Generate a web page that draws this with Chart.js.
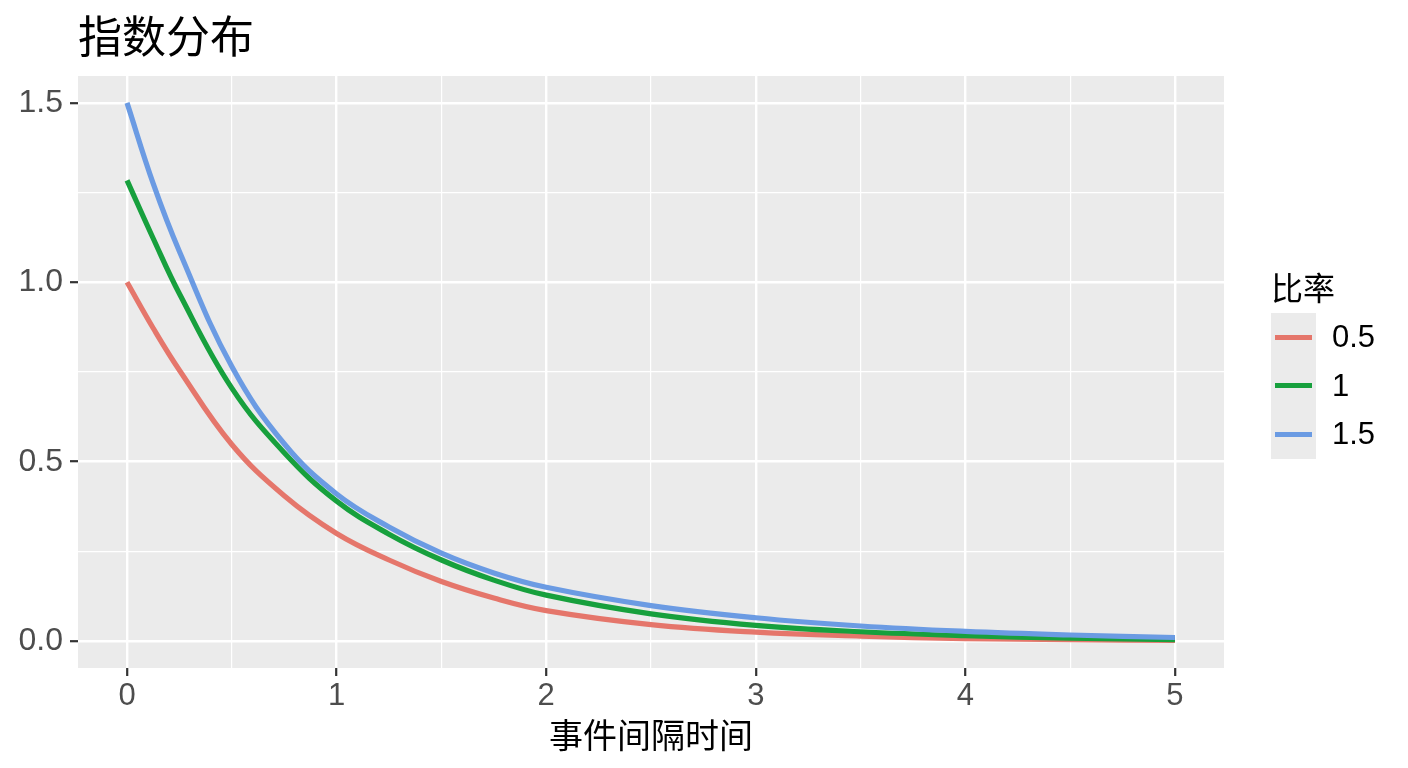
<!DOCTYPE html>
<html lang="zh">
<head>
  <meta charset="UTF-8" />
  <title>指数分布</title>
  <script src="https://cdn.jsdelivr.net/npm/chart.js"></script>
  <style>
    html, body { margin: 0; padding: 0; background: #fff; }
    #wrap { position: relative; width: 1408px; height: 768px; }
    canvas { display: block; }
    .legend {
      position: absolute; left: 1271px; top: 265px;
      font-family: "Liberation Sans", "Noto Sans CJK SC", sans-serif; color: #000;
    }
    .legend .ttl { font-size: 32px; height: 42px; line-height: 42px; font-family: "Noto Sans CJK SC", sans-serif; }
    .legend .keys { position: relative; margin-top: 6px; }
    .legend .row { display: flex; align-items: center; height: 48.5px; }
    .legend .key { width: 45px; height: 48.5px; background: #EBEBEB; position: relative; }
    .legend .key span { position: absolute; left: 4px; right: 4px; top: 21.5px; height: 5px; }
    .legend .lab { font-size: 31px; margin-left: 16px; }
  </style>
</head>
<body>
  <div id="wrap">
    <canvas id="chart" width="1408" height="768"></canvas>
    <div class="legend" id="legend"></div>
  </div>

  <script>
    // values
    const tiempos = [0, 0.125, 0.25, 0.5, 0.75, 1, 1.25, 1.5, 1.75, 2, 2.5, 3, 3.5, 4, 4.5, 5];
    const tasa05 = [1.00, 0.872, 0.755, 0.548, 0.405, 0.30, 0.226, 0.166, 0.120, 0.085, 0.046, 0.025, 0.014, 0.007, 0.004, 0.002];
    const tasa1  = [1.284, 1.122, 0.968, 0.705, 0.525, 0.39, 0.298, 0.226, 0.170, 0.128, 0.076, 0.044, 0.026, 0.015, 0.008, 0.004];
    const tasa15 = [1.50, 1.275, 1.086, 0.765, 0.55, 0.41, 0.318, 0.245, 0.190, 0.150, 0.099, 0.065, 0.042, 0.027, 0.017, 0.010];
    const nombres = ["0.5", "1", "1.5"];
    const colores = ["#E5766B", "#17A03D", "#6B9BE3"];
    const xTicks = [0, 0.5, 1, 1.5, 2, 2.5, 3, 3.5, 4, 4.5, 5];
    const yTicks = [0, 0.25, 0.5, 0.75, 1, 1.25, 1.5];

    const series = [tasa05, tasa1, tasa15];
    const fuente = '"Liberation Sans", "Noto Sans CJK SC", sans-serif';

    const panel = {
      id: "panel",
      beforeDraw(chart) {
        const a = chart.chartArea, c = chart.ctx;
        c.save();
        c.fillStyle = "#EBEBEB";
        c.fillRect(a.left, a.top, a.right - a.left, a.bottom - a.top);
        c.restore();
      },
      afterDraw(chart) {
        const c = chart.ctx;
        c.save();
        c.fillStyle = "#000";
        c.font = '44px "Noto Sans CJK SC", sans-serif';
        c.textBaseline = "middle";
        c.fillText("指数分布", chart.chartArea.left, 36);
        c.restore();
      }
    };

    new Chart(document.getElementById("chart"), {
      type: "scatter",
      data: {
        datasets: series.map((s, i) => ({
          label: nombres[i],
          data: tiempos.map((t, j) => ({ x: t, y: s[j] })),
          showLine: true,
          borderColor: colores[i],
          backgroundColor: colores[i],
          borderWidth: 5.2,
          pointRadius: 0,
          tension: 0.4,
          order: 3 - i
        }))
      },
      options: {
        responsive: false,
        animation: false,
        layout: { padding: { top: 76, right: 184, bottom: 0, left: 0 } },
        plugins: { legend: { display: false }, tooltip: { enabled: false } },
        scales: {
          x: {
            type: "linear", min: -0.234, max: 5.234,
            afterBuildTicks: s => { s.ticks = xTicks.map(v => ({ value: v })); },
            afterFit: s => { s.height = 100; },
            border: { display: false },
            grid: {
              color: "#FFFFFF",
              lineWidth: c => Number.isInteger(c.tick.value) ? 2.4 : 1.2,
              tickColor: c => Number.isInteger(c.tick.value) ? "#333333" : "rgba(0,0,0,0)",
              tickLength: 8, tickWidth: 2.2
            },
            ticks: {
              color: "#4D4D4D", font: { family: fuente, size: 31 }, padding: 2,
              maxRotation: 0, autoSkip: false,
              callback: v => Number.isInteger(v) ? String(v) : ""
            },
            title: {
              display: true, text: "事件间隔时间", color: "#000",
              font: { family: '"Noto Sans CJK SC", sans-serif', size: 34 },
              padding: { top: 0, bottom: 13 }
            }
          },
          y: {
            type: "linear", min: -0.075, max: 1.575,
            afterBuildTicks: s => { s.ticks = yTicks.map(v => ({ value: v })); },
            afterFit: s => { s.width = 78; },
            border: { display: false },
            grid: {
              color: "#FFFFFF",
              lineWidth: c => (c.tick.value * 2) % 1 === 0 ? 2.4 : 1.2,
              tickColor: c => (c.tick.value * 2) % 1 === 0 ? "#333333" : "rgba(0,0,0,0)",
              tickLength: 8, tickWidth: 2.2
            },
            ticks: {
              color: "#4D4D4D", font: { family: fuente, size: 32 }, padding: 7,
              autoSkip: false,
              callback: v => (v * 2) % 1 === 0 ? v.toFixed(1) : ""
            }
          }
        }
      },
      plugins: [panel]
    });

    const leyenda = document.getElementById("legend");
    leyenda.innerHTML = '<div class="ttl">比率</div><div class="keys">' +
      nombres.map((n, i) => `<div class="row"><div class="key"><span style="background:${colores[i]}"></span></div><div class="lab">${n}</div></div>`).join("") +
      "</div>";
  </script>
</body>
</html>
